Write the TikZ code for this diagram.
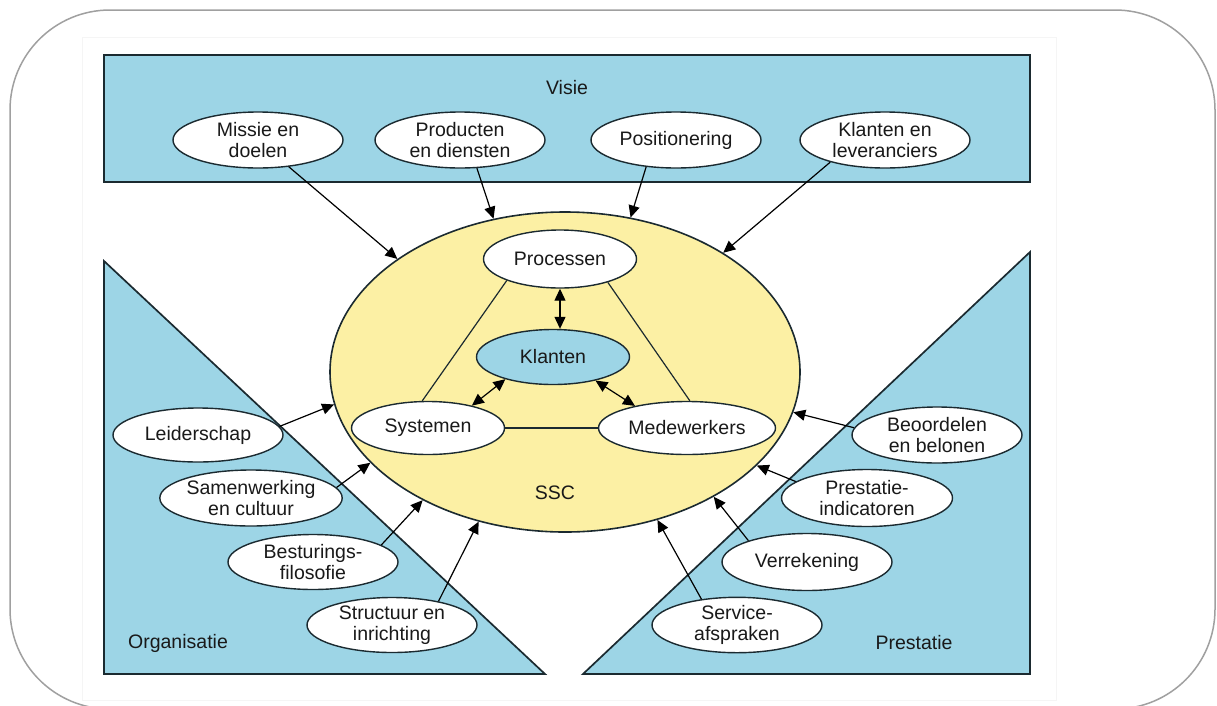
\documentclass[tikz,border=0pt]{standalone}
\usepackage{fontspec}
\setmainfont{Liberation Sans}
\usetikzlibrary{shapes.geometric,arrows.meta}
\definecolor{panel}{HTML}{9DD5E6}
\definecolor{core}{HTML}{FCF0A4}
\definecolor{edge}{HTML}{1B2A30}
\definecolor{frame}{HTML}{A0A0A0}
\begin{document}
\begin{tikzpicture}[x=1pt,y=-1pt,
  txt/.style={font=\fontsize{19.5}{21}\selectfont,text=black!90},
  oval/.style={ellipse,draw=edge,line width=1.4pt,fill=white,inner sep=0pt,
    minimum width=170pt,minimum height=56pt,align=center,txt},
  inner/.style={oval,minimum width=153pt,minimum height=55pt},
  arr/.style={draw=black,line width=1.2pt,-{Triangle[length=12pt,width=11pt]}},
  darr/.style={draw=black,line width=1.2pt,{Triangle[length=12pt,width=11pt]}-{Triangle[length=12pt,width=11pt]}},
  link/.style={draw=edge,line width=1.2pt},
  panelbox/.style={fill=panel,draw=edge,line width=1.7pt,line join=miter}
]
\useasboundingbox (0,0) rectangle (1217,705);
\fill[white] (0,0) rectangle (1217,705);

% outer rounded frame and faint sheet
\draw[frame,line width=1.5pt] (10,10) [rounded corners=100pt] rectangle (1215,709);
\draw[black!4,line width=0.8pt] (82,37) rectangle (1056,700);

% the three panels
\draw[panelbox] (104,55) rectangle (1030,182);
\draw[panelbox] (104,261) -- (545,674) -- (104,674) -- cycle;
\draw[panelbox] (1030,252) -- (1030,674) -- (583,674) -- cycle;

\node[txt] (visie) at (567,88) {Visie};
\node[txt] (org) at (178,643) {Organisatie};
\node[txt] (pres) at (914,643) {Prestatie};

% central SSC ellipse
\node[ellipse,draw=edge,line width=1.6pt,fill=core,minimum width=470pt,minimum height=320pt,inner sep=0pt] (ssc) at (565,372) {};
\node[txt] (ssclabel) at (555,493) {SSC};

% top ovals
\node[oval] (missie) at (258,140) {Missie en\\doelen};
\node[oval] (prod) at (460,140) {Producten\\en diensten};
\node[oval] (posit) at (676,140) {Positionering};
\node[oval] (klev) at (885,140) {Klanten en\\leveranciers};

% left ovals
\node[oval,minimum height=54pt] (leid) at (198,435) {Leiderschap};
\node[oval,minimum width=173pt] (samen) at (251,498) {Samenwerking\\en cultuur};
\node[oval,minimum height=55pt] (best) at (313,562) {Besturings-\\filosofie};
\node[oval,minimum height=55pt] (struc) at (392,625) {Structuur en\\inrichting};

% right ovals
\node[oval] (beoor) at (937,435) {Beoordelen\\en belonen};
\node[oval,minimum width=171pt,minimum height=57pt] (pind) at (867,498) {Prestatie-\\indicatoren};
\node[oval,minimum height=57pt] (verr) at (807,562) {Verrekening};
\node[oval,minimum height=55pt] (serv) at (737,625) {Service-\\afspraken};

% inner ovals
\node[inner,minimum height=58pt] (proc) at (560,259) {Processen};
\node[inner,fill=panel] (klant) at (553,357) {Klanten};
\node[inner,minimum height=53pt] (syst) at (428,428) {Systemen};
\node[inner,minimum width=177pt,minimum height=53pt] (mede) at (687,428) {Medewerkers};

% triangle of links between the inner ovals
\draw[link] (proc.202) -- (syst.102);
\draw[link] (proc.-26) -- (mede.84);
\draw[link] (syst.east) -- (mede.west);

% double arrows with Klanten
\draw[darr] (proc.south) -- (proc.south |- klant.north);
\draw[darr] (klant.205) -- (syst.27);
\draw[darr] (klant.-29) -- (mede.157);

% arrows into the SSC ellipse
\draw[arr] (missie.-41) -- (ssc.146);
\draw[arr] (prod.-59) -- (ssc.115);
\draw[arr] (posit.-138) -- (ssc.67);
\draw[arr] (klev.202) -- (ssc.37);

\draw[arr] (leid.6) -- (ssc.188);
\draw[arr] (samen.7) -- (ssc.205);
\draw[arr] (best.14) -- (ssc.222);
\draw[arr] (struc.27) -- (ssc.240);

\draw[arr] (beoor.175) -- (ssc.-10);
\draw[arr] (pind.167) -- (ssc.-26);
\draw[arr] (verr.160) -- (ssc.-40);
\draw[arr] (serv.144) -- (ssc.-58);
\end{tikzpicture}
\end{document}
